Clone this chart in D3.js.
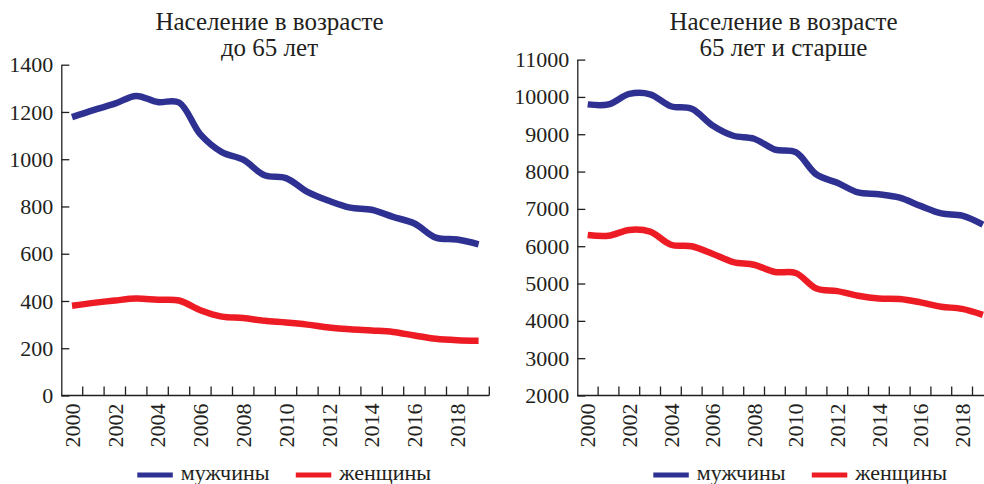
<!DOCTYPE html>
<html>
<head>
<meta charset="utf-8">
<script src="https://cdn.jsdelivr.net/npm/d3@7"></script>
<style>
  body { margin: 0; background: #fff; }
  svg { display: block; }
  text { font-family: 'Liberation Serif', 'Times New Roman', serif; fill: #231f20; }
</style>
</head>
<body>
<div id="chart"></div>
<script>
'use strict';

const years = d3.range(2000, 2020);

// Население до 65 лет
const youngMen = [1178, 1208, 1235, 1268, 1242, 1240, 1105, 1030, 998, 932, 920, 862, 824, 795, 786, 756, 728, 668, 660, 640];
const youngWomen = [380, 392, 402, 410, 405, 402, 361, 334, 328, 316, 309, 300, 288, 280, 275, 269, 254, 240, 234, 232];

// Население 65 лет и старше
const oldMen = [9800, 9800, 10080, 10070, 9750, 9680, 9235, 8960, 8880, 8590, 8520, 7920, 7700, 7440, 7390, 7300, 7080, 6880, 6820, 6580];
const oldWomen = [6300, 6280, 6436, 6390, 6040, 6000, 5800, 5575, 5504, 5310, 5283, 4867, 4796, 4673, 4600, 4585, 4496, 4380, 4320, 4160];

const seriesNames = ['мужчины', 'женщины'];
const colors = ['#2e3192', '#ed1c24'];

const width = 984;
const height = 484;

const svg = d3.select('#chart')
  .append('svg')
  .attr('width', width)
  .attr('height', height);

const panels = [
  {
    title: ['Население в возрасте', 'до 65 лет'],
    series: [youngMen, youngWomen],
    domain: [0, 1400],
    step: 200,
    left: 61.3,
    right: 489.3,
    top: 64.7,
    titleX: 269.5,
    legendX: 137.3,
  },
  {
    title: ['Население в возрасте', '65 лет и старше'],
    series: [oldMen, oldWomen],
    domain: [2000, 11000],
    step: 1000,
    left: 577.3,
    right: 993.3,
    top: 59.6,
    titleX: 783.5,
    legendX: 653.3,
  },
];

const bottom = 395.5;

const drawPanel = (p) => {
  const g = svg.append('g');

  const x = d3.scaleBand()
    .domain(years)
    .range([p.left, p.right])
    .padding(0);

  const y = d3.scaleLinear()
    .domain(p.domain)
    .range([bottom, p.top]);

  // y axis, ticks pointing inward
  const yAxis = d3.axisLeft(y)
    .tickValues(d3.range(p.domain[0], p.domain[1] + 1, p.step))
    .tickSizeInner(-8)
    .tickSizeOuter(0)
    .tickPadding(8)
    .tickFormat(d3.format('d'));

  const ya = g.append('g')
    .attr('transform', `translate(${p.left}, 0)`)
    .call(yAxis);
  ya.selectAll('path, line').attr('stroke', '#231f20').attr('stroke-width', 1.3);
  ya.selectAll('text')
    .attr('font-size', '22px')
    .attr('font-family', "'Liberation Serif', 'Times New Roman', serif")
    .attr('fill', '#231f20');

  // x axis drawn by hand: ticks on band edges, labels on band centres
  g.append('line')
    .attr('x1', p.left)
    .attr('x2', p.right)
    .attr('y1', bottom)
    .attr('y2', bottom)
    .attr('stroke', '#231f20')
    .attr('stroke-width', 1.3);

  g.selectAll('.xtick')
    .data(years.slice(1).concat([null]))
    .join('line')
    .attr('class', 'xtick')
    .attr('x1', (d) => d === null ? p.right : x(d))
    .attr('x2', (d) => d === null ? p.right : x(d))
    .attr('y1', bottom)
    .attr('y2', bottom - 9)
    .attr('stroke', '#231f20')
    .attr('stroke-width', 1.3);

  g.selectAll('.xlabel')
    .data(years.filter((d) => d % 2 === 0))
    .join('text')
    .attr('class', 'xlabel')
    .attr('transform', (d) => `translate(${x(d) + x.bandwidth() / 2}, ${bottom + 8}) rotate(-90)`)
    .attr('text-anchor', 'end')
    .attr('dy', '0.35em')
    .attr('font-size', '22px')
    .text((d) => d);

  const line = d3.line()
    .x((d, i) => x(years[i]) + x.bandwidth() / 2)
    .y((d) => y(d))
    .curve(d3.curveCatmullRom);

  g.selectAll('.series')
    .data(p.series)
    .join('path')
    .attr('class', 'series')
    .attr('d', line)
    .attr('fill', 'none')
    .attr('stroke', (d, i) => colors[i])
    .attr('stroke-width', 6.5);

  // title
  g.append('text')
    .attr('x', p.titleX)
    .attr('y', 30)
    .attr('text-anchor', 'middle')
    .attr('font-size', '25px')
    .selectAll('tspan')
    .data(p.title)
    .join('tspan')
    .attr('x', p.titleX)
    .attr('dy', (d, i) => i === 0 ? 0 : 26)
    .text((d) => d);

  // legend
  const legend = g.append('g')
    .attr('transform', `translate(${p.legendX}, 475)`);

  const item = legend.selectAll('g')
    .data(seriesNames)
    .join('g')
    .attr('transform', (d, i) => `translate(${i * 158.5}, 0)`);

  item.append('line')
    .attr('x1', 0)
    .attr('x2', 35.5)
    .attr('stroke', (d, i) => colors[i])
    .attr('stroke-width', 5);

  item.append('text')
    .attr('x', 43.5)
    .attr('y', 4.5)
    .attr('font-size', '22px')
    .text((d) => d);
};

panels.forEach(drawPanel);
</script>
</body>
</html>
